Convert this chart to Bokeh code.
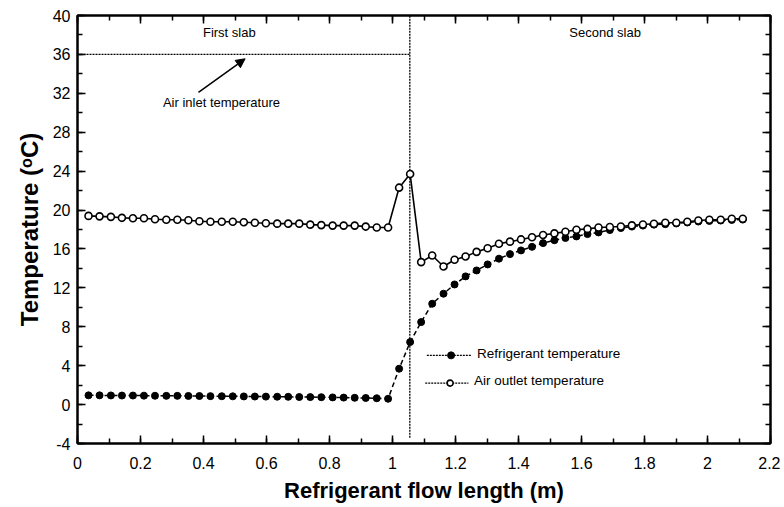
from bokeh.plotting import figure
from bokeh.models import (LinearAxis, SingleIntervalTicker, Arrow, NormalHead, Range1d,
                          ColumnDataSource, CustomJSTickFormatter)
from bokeh.embed import file_html
from bokeh.resources import INLINE
from bokeh.core.properties import value

# ---- data ----
flow_length = [0.035, 0.070, 0.106, 0.141, 0.176, 0.211, 0.246, 0.282, 0.317, 0.352,
               0.387, 0.422, 0.458, 0.493, 0.528, 0.563, 0.598, 0.634, 0.669, 0.704,
               0.739, 0.774, 0.810, 0.845, 0.880, 0.915, 0.950, 0.986, 1.021, 1.056,
               1.091, 1.126, 1.162, 1.197, 1.232, 1.267, 1.302, 1.338, 1.373, 1.408,
               1.443, 1.478, 1.514, 1.549, 1.584, 1.619, 1.654, 1.690, 1.725, 1.760,
               1.795, 1.830, 1.866, 1.901, 1.936, 1.971, 2.006, 2.042, 2.077, 2.112]

refrigerant_temp = [0.95, 0.95, 0.94, 0.93, 0.93, 0.92, 0.91, 0.90, 0.90, 0.89,
                    0.88, 0.87, 0.86, 0.85, 0.84, 0.83, 0.82, 0.81, 0.80, 0.78,
                    0.77, 0.76, 0.74, 0.72, 0.70, 0.68, 0.65, 0.60, 3.69, 6.43,
                    8.48, 10.37, 11.40, 12.35, 13.18, 13.79, 14.41, 15.00, 15.47, 15.85,
                    16.22, 16.60, 16.90, 17.13, 17.29, 17.53, 17.70, 17.94, 18.15, 18.30,
                    18.40, 18.50, 18.55, 18.62, 18.72, 18.82, 18.88, 18.92, 18.98, 19.02]

air_outlet_temp = [19.40, 19.35, 19.30, 19.20, 19.15, 19.15, 19.05, 19.00, 19.00, 18.95,
                   18.85, 18.80, 18.80, 18.80, 18.75, 18.70, 18.65, 18.60, 18.60, 18.60,
                   18.50, 18.45, 18.40, 18.40, 18.40, 18.30, 18.20, 18.20, 22.30, 23.70,
                   14.65, 15.33, 14.20, 14.89, 15.23, 15.70, 16.08, 16.53, 16.75, 16.98,
                   17.20, 17.44, 17.60, 17.77, 17.98, 18.06, 18.20, 18.25, 18.31, 18.42,
                   18.52, 18.59, 18.69, 18.69, 18.80, 18.93, 19.00, 19.00, 19.10, 19.10]

air_inlet_temp = 36.0
slab_boundary = 1.055
x_range = (0.0, 2.2)
y_range = (-4.0, 40.0)
legend_labels = ["Refrigerant temperature", "Air outlet temperature"]

TICK_FONT = "'Liberation Sans', Arial, sans-serif"
TEXT_FONT = "'Liberation Sans', Arial, sans-serif"

p = figure(width=780, height=505, x_range=Range1d(*x_range), y_range=Range1d(*y_range),
           output_backend="svg", toolbar_location=None,
           min_border_left=77, min_border_right=10, min_border_top=15, min_border_bottom=62)

p.xgrid.visible = False
p.ygrid.visible = False
p.outline_line_color = "black"
p.outline_line_width = 2
p.background_fill_color = "white"

xt = SingleIntervalTicker(interval=0.2, num_minor_ticks=2)
yt = SingleIntervalTicker(interval=4, num_minor_ticks=2)
p.xaxis.ticker = xt
p.yaxis.ticker = yt

for ax in (p.xaxis[0], p.yaxis[0]):
    ax.axis_line_width = 2
    ax.major_tick_in = 8
    ax.major_tick_out = 0
    ax.minor_tick_in = 5
    ax.minor_tick_out = 0
    ax.major_tick_line_width = 1.5
    ax.minor_tick_line_width = 1.5
    ax.major_label_text_font = TICK_FONT
    ax.major_label_text_font_size = "16px"
    ax.major_label_text_color = "black"
    ax.axis_label_text_font = TICK_FONT
    ax.axis_label_text_font_style = "bold"
    ax.axis_label_text_color = "black"

p.xaxis.axis_label = "Refrigerant flow length (m)"
p.yaxis.axis_label = "Temperature (ᵒC)"
p.xaxis.axis_label_text_font_size = "22px"
p.yaxis.axis_label_text_font_size = "24px"
p.xaxis.major_label_standoff = 13
p.xaxis.axis_label_standoff = 6
p.yaxis.major_label_standoff = 7
p.yaxis.axis_label_standoff = 7
p.yaxis.major_label_overrides = {-4: "-4"}

blank = CustomJSTickFormatter(code="return ''")
for loc, tk in (("above", xt), ("right", yt)):
    ax = LinearAxis(ticker=tk, formatter=blank, major_label_standoff=0,
                    major_tick_in=8, major_tick_out=0, minor_tick_in=5, minor_tick_out=0,
                    major_tick_line_width=1.5, minor_tick_line_width=1.5, axis_line_width=2)
    p.add_layout(ax, loc)

src = ColumnDataSource(dict(x=flow_length, r=refrigerant_temp, a=air_outlet_temp))

# slab boundary and air inlet temperature
p.line([slab_boundary, slab_boundary], [-3.4, y_range[1]], line_color="black",
       line_width=1.3, line_dash="2 1")
p.line([x_range[0], slab_boundary], [air_inlet_temp, air_inlet_temp], line_color="black",
       line_width=1.3, line_dash="2 1")

# refrigerant temperature
p.line("x", "r", source=src, line_color="black", line_width=1.5, line_dash="5 3")
p.scatter("x", "r", source=src, size=7, marker="circle", fill_color="black", line_color="black")

# air outlet temperature
p.line("x", "a", source=src, line_color="black", line_width=1.6)
p.scatter("x", "a", source=src, size=7, marker="circle", fill_color="white",
          line_color="black", line_width=1.6)

# annotations
p.text(x=[0.482, 1.675], y=[38.3, 38.3], text=["First slab", "Second slab"],
       text_align="center", text_baseline="middle", text_font=value(TEXT_FONT),
       text_font_size="13px", text_color="black")
p.text(x=[0.457], y=[31.1], text=["Air inlet temperature"], text_align="center",
       text_baseline="middle", text_font=value(TEXT_FONT), text_font_size="13px",
       text_color="black")
p.add_layout(Arrow(end=NormalHead(size=9, fill_color="black", line_color="black"),
                   x_start=0.384, y_start=32.1, x_end=0.532, y_end=35.55,
                   line_color="black", line_width=1.5))

# legend (dotted sample lines with markers, as in the reference)
p.line([1.109, 1.252], [5.06, 5.06], line_color="black", line_width=1.3, line_dash="2 1")
p.scatter([1.186], [5.06], size=7, marker="circle", fill_color="black", line_color="black")
p.line([1.104, 1.241], [2.21, 2.21], line_color="black", line_width=1.3, line_dash="2 1")
p.scatter([1.183], [2.21], size=6, marker="circle", fill_color="white", line_color="black",
          line_width=1.6)
p.text(x=[1.268, 1.259], y=[5.3, 2.45], text=legend_labels, text_align="left",
       text_baseline="middle", text_font=value(TEXT_FONT), text_font_size="13.5px",
       text_color="black")

open("out.html", "w").write(file_html(p, INLINE))
